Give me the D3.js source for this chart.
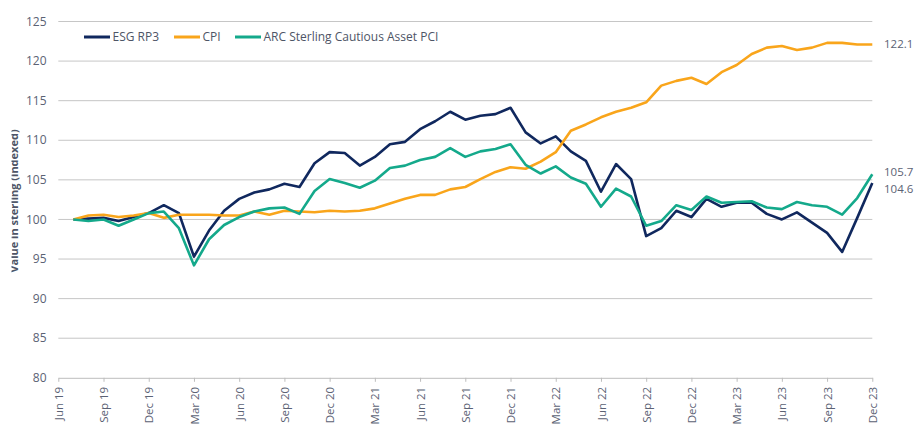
<!DOCTYPE html>
<html><head><meta charset="utf-8">
<script src="https://cdn.jsdelivr.net/npm/d3@7"></script>
<style>
html,body{margin:0;padding:0;background:#fff;}
svg{display:block;font-family:"Open Sans",sans-serif;}
</style></head>
<body><svg id="chart" width="917" height="424"></svg>
<script>
// Monthly observations, Jul 19 .. Dec 23 (axis starts Jun 19)
const esgRP3 = [100.0,100.1,100.2,99.8,100.3,100.8,101.8,100.8,95.3,98.6,101.1,102.6,103.4,103.8,104.5,104.1,107.1,108.5,108.4,106.8,107.9,109.5,109.8,111.4,112.4,113.6,112.6,113.1,113.3,114.1,111.0,109.6,110.5,108.6,107.4,103.5,107.0,105.1,97.9,98.9,101.1,100.3,102.6,101.6,102.1,102.1,100.7,100.0,100.9,99.6,98.3,95.9,100.2,104.6];
const cpi = [100.0,100.5,100.6,100.3,100.5,100.8,100.2,100.6,100.6,100.6,100.5,100.5,101.0,100.6,101.1,101.0,100.9,101.1,101.0,101.1,101.4,102.0,102.6,103.1,103.1,103.8,104.1,105.1,106.0,106.6,106.4,107.3,108.5,111.2,112.0,112.9,113.6,114.1,114.8,116.9,117.5,117.9,117.1,118.6,119.5,120.9,121.7,121.9,121.4,121.7,122.3,122.3,122.1,122.1];
const arcCautious = [100.0,99.8,100.0,99.2,100.0,100.8,101.0,98.9,94.2,97.5,99.3,100.3,101.0,101.4,101.5,100.7,103.6,105.1,104.6,104.0,104.9,106.5,106.8,107.5,107.9,109.0,107.9,108.6,108.9,109.5,106.9,105.8,106.7,105.3,104.5,101.6,103.9,102.9,99.2,99.8,101.8,101.2,102.9,102.1,102.2,102.3,101.5,101.3,102.2,101.8,101.6,100.6,102.7,105.7];
const seriesNames = ["ESG RP3","CPI","ARC Sterling Cautious Asset PCI"];
const seriesColors = ["#10285e","#f9a51b","#14a98b"];
const xTickLabels = ["Jun 19","Sep 19","Dec 19","Mar 20","Jun 20","Sep 20","Dec 20","Mar 21","Jun 21","Sep 21","Dec 21","Mar 22","Jun 22","Sep 22","Dec 22","Mar 23","Jun 23","Sep 23","Dec 23"];
const yTicks = [80,85,90,95,100,105,110,115,120,125];
const endLabels = ["104.6","122.1","105.7"];
const yAxisTitle = "Value in sterling (indexed)";

const fmt = d3.timeFormat("%b %y");
const months = d3.timeMonth.range(new Date(2019,5,1), new Date(2024,0,1)).map(fmt);
const svg = d3.select("#chart");

const x = d3.scalePoint().domain(months).range([58.3, 872.3]);
const y = d3.scaleLinear().domain([80,125]).range([377.8, 21.5]);
const dataMonths = months.slice(1);
const allSeries = [esgRP3, cpi, arcCautious];

// gridlines
svg.append("g").selectAll("line").data(yTicks.filter(v=>v>80)).join("line")
  .attr("x1",58.3).attr("x2",872.3)
  .attr("y1",d=>y(d)).attr("y2",d=>y(d))
  .attr("stroke","#c6c6c6").attr("stroke-width",1);

// y labels
svg.append("g").selectAll("text").data(yTicks).join("text")
  .attr("x",46.5).attr("y",d=>y(d)).attr("dy","0.35em")
  .attr("text-anchor","end").attr("font-size",12).attr("fill","#5b6274")
  .text(d=>d);

// x axis
const xAxis = d3.axisBottom(x).tickValues(xTickLabels).tickSize(4).tickSizeOuter(0);
const gx = svg.append("g").attr("transform",`translate(0,${y(80)})`).call(xAxis);
gx.select(".domain").attr("stroke","#bdbdbd");
gx.selectAll(".tick line").attr("stroke","#bdbdbd");
gx.selectAll(".tick text")
  .attr("font-family","Open Sans, sans-serif").attr("font-size",11.5).attr("fill","#5b6274")
  .attr("transform","rotate(-90)").attr("text-anchor","end")
  .attr("x",-9).attr("y",0).attr("dy","0.36em");

// y title (clipped at left like the reference)
svg.append("clipPath").attr("id","tclip").append("rect").attr("x",11.5).attr("y",0).attr("width",40).attr("height",424);
svg.append("g").attr("clip-path","url(#tclip)")
  .append("text")
  .attr("transform","translate(17.8,201) rotate(-90)")
  .attr("text-anchor","middle").attr("font-size",11).attr("font-weight","bold").attr("fill","#4e5566")
  .text(yAxisTitle);

// lines
const line = d3.line().x((d,i)=>x(dataMonths[i])).y(d=>y(d));
allSeries.forEach((s,k)=>{
  svg.append("path").datum(s).attr("d",line)
    .attr("fill","none").attr("stroke",seriesColors[k]).attr("stroke-width",2.6)
    .attr("stroke-linejoin","round");
});

// end labels
const endY = [y(esgRP3[esgRP3.length-1])+6, y(cpi[cpi.length-1]), y(arcCautious[arcCautious.length-1])-2.5];
svg.append("g").selectAll("text").data(endLabels).join("text")
  .attr("x",884).attr("y",(d,i)=>endY[i]).attr("dy","0.35em")
  .attr("font-size",11.5).attr("fill","#5b6274").text(d=>d);

// legend
const legX = [84,174,235];
const lg = svg.append("g");
seriesNames.forEach((n,k)=>{
  lg.append("line").attr("x1",legX[k]).attr("x2",legX[k]+26).attr("y1",37).attr("y2",37)
    .attr("stroke",seriesColors[k]).attr("stroke-width",3);
  lg.append("text").attr("x",legX[k]+28.5).attr("y",37).attr("dy","0.35em")
    .attr("font-size",12).attr("fill","#4e5566").text(n);
});
</script></body></html>
